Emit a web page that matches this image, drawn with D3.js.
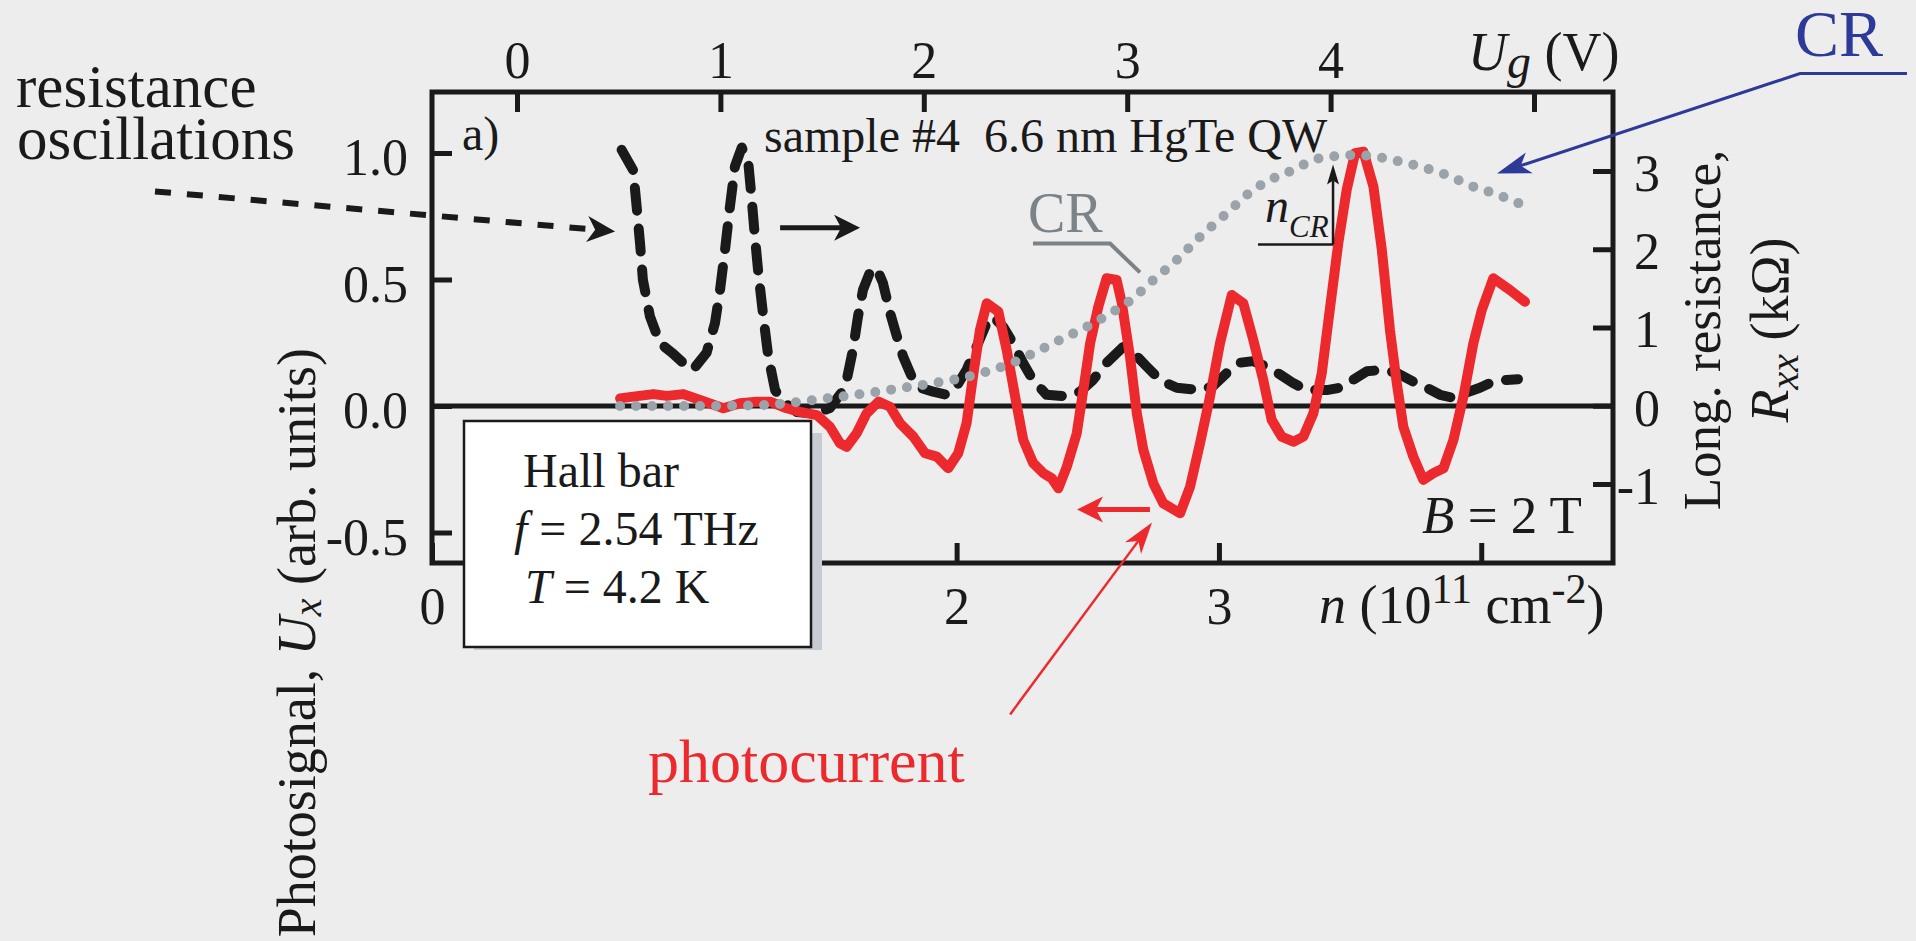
<!DOCTYPE html>
<meta charset="utf-8">
<script src="https://d3js.org/d3.v7.min.js"></script>
<style>
  body { margin: 0; background: #ededed; }
  svg { display: block; }
  text { font-family: "Liberation Serif", "Times New Roman", serif; fill: #1a1a1a; }
  .tick line { stroke: #1a1a1a; stroke-width: 5px; }
  .tick text { font-size: 52px; font-family: "Liberation Serif", serif; fill: #1a1a1a; }
</style>
<div id="chart"></div>
<script>
// carrier density n (10^11 cm^-2) vs. longitudinal resistance Rxx (kOhm), dashed curve
const resN = [0.723, 0.767, 0.780, 0.793, 0.804, 0.831, 0.869, 0.914, 0.957, 0.995, 1.047, 1.079, 1.098, 1.117,
  1.136, 1.155, 1.181, 1.206, 1.219, 1.231, 1.244, 1.263, 1.282, 1.308, 1.339, 1.391, 1.460, 1.517, 1.568,
  1.581, 1.605, 1.624, 1.643, 1.670, 1.695, 1.719, 1.746, 1.772, 1.796, 1.829, 1.860, 1.910, 1.962, 2.000,
  2.038, 2.077, 2.115, 2.139, 2.177, 2.215, 2.253, 2.291, 2.343, 2.420, 2.470, 2.520, 2.572, 2.634, 2.673,
  2.725, 2.775, 2.839, 2.928, 2.977, 3.030, 3.080, 3.130, 3.182, 3.233, 3.283, 3.335, 3.411, 3.462, 3.511,
  3.564, 3.626, 3.678, 3.740, 3.792, 3.843, 3.893, 3.945, 3.995, 4.045, 4.097, 4.140];
const resR = [3.27, 3.01, 2.55, 2.08, 1.61, 1.14, 0.80, 0.68, 0.55, 0.46, 0.68, 1.06, 1.48, 1.99,
  2.55, 3.06, 3.30, 3.10, 2.63, 2.16, 1.70, 1.14, 0.63, 0.20, 0.05, -0.08, -0.10, -0.03, 0.20,
  0.33, 0.72, 1.14, 1.48, 1.71, 1.76, 1.57, 1.19, 0.89, 0.63, 0.37, 0.23, 0.18, 0.14, 0.25,
  0.46, 0.76, 1.06, 1.14, 1.01, 0.80, 0.55, 0.33, 0.14, 0.12, 0.18, 0.33, 0.55, 0.75, 0.68,
  0.50, 0.33, 0.23, 0.20, 0.25, 0.42, 0.55, 0.57, 0.50, 0.40, 0.29, 0.20, 0.20, 0.23, 0.33,
  0.44, 0.46, 0.42, 0.31, 0.23, 0.14, 0.10, 0.17, 0.23, 0.31, 0.33, 0.34];

// photocurrent Ux (arb. units)
const photoN = [0.717, 0.767, 0.844, 0.895, 0.958, 1.022, 1.111, 1.174, 1.238, 1.289, 1.352, 1.403, 1.467,
  1.517, 1.555, 1.581, 1.619, 1.657, 1.702, 1.746, 1.784, 1.835, 1.880, 1.924, 1.968, 2.006, 2.038, 2.064,
  2.089, 2.115, 2.159, 2.191, 2.223, 2.254, 2.292, 2.331, 2.363, 2.388, 2.420, 2.458, 2.483, 2.509, 2.540,
  2.572, 2.610, 2.630, 2.661, 2.687, 2.712, 2.750, 2.788, 2.852, 2.890, 2.928, 2.966, 3.004, 3.049, 3.093,
  3.131, 3.169, 3.201, 3.239, 3.284, 3.322, 3.360, 3.392, 3.424, 3.455, 3.487, 3.519, 3.551, 3.589, 3.621,
  3.652, 3.678, 3.703, 3.741, 3.779, 3.817, 3.856, 3.894, 3.932, 3.970, 4.002, 4.046, 4.110, 4.167];
const photoU = [0.030, 0.037, 0.047, 0.040, 0.047, 0.024, -0.009, 0.011, 0.017, 0.017, -0.009, -0.023, -0.036,
  -0.082, -0.147, -0.161, -0.108, -0.029, 0.017, -0.003, -0.068, -0.121, -0.187, -0.200, -0.246, -0.187, -0.068, 0.129,
  0.300, 0.406, 0.373, 0.221, 0.037, -0.134, -0.226, -0.266, -0.286, -0.325, -0.240, -0.108, 0.063, 0.248, 0.392,
  0.505, 0.498, 0.406, 0.195, -0.029, -0.174, -0.306, -0.385, -0.424, -0.319, -0.147, 0.037, 0.248, 0.439, 0.406,
  0.261, 0.103, -0.055, -0.121, -0.141, -0.121, -0.029, 0.129, 0.392, 0.643, 0.854, 0.999, 1.005, 0.867, 0.617,
  0.300, 0.090, -0.082, -0.200, -0.292, -0.266, -0.246, -0.134, 0.037, 0.248, 0.379, 0.505, 0.458, 0.412];

// cyclotron resonance (CR) position, dotted curve
const crN = [0.717, 1.022, 1.273, 1.352, 1.505, 1.657, 1.784, 1.911, 2.013, 2.115, 2.191, 2.292, 2.394, 2.496,
  2.597, 2.648, 2.750, 2.839, 2.928, 3.030, 3.131, 3.208, 3.284, 3.360, 3.449, 3.525, 3.576, 3.690, 3.767,
  3.868, 3.970, 4.046, 4.160];
const crU = [0.000, 0.000, 0.004, 0.011, 0.030, 0.050, 0.070, 0.090, 0.109, 0.136, 0.162, 0.208, 0.261, 0.313,
  0.373, 0.406, 0.498, 0.577, 0.669, 0.762, 0.854, 0.900, 0.933, 0.972, 0.988, 0.992, 0.988, 0.966, 0.946,
  0.913, 0.867, 0.841, 0.794];

// axis ticks
const nTicks = [0, 1, 2, 3, 4];
const nLabels = ["0", "1", "2", "3", ""];
const ugTicks = [0, 1, 2, 3, 4, 5];
const ugLabels = ["0", "1", "2", "3", "4", ""];
const uTicks = [-0.5, 0, 0.5, 1.0];
const uLabels = ["-0.5", "0.0", "0.5", "1.0"];
const rTicks = [-1, 0, 1, 2, 3];
const rLabels = ["-1", "0", "1", "2", "3"];

// annotation arrows, in data units (n, Ux)
const resArrow = [[1.327, 0.705], [1.632, 0.705]];
const resPointer = [[-1.056, 0.848], [0.698, 0.690]];
const photoArrow = [[2.737, -0.409], [2.459, -0.409]];
const photoPointer = [[2.204, -1.219], [2.745, -0.460]];
const crPointer = [[5.623, 1.314], [5.215, 1.314], [4.060, 0.919]];
const crLeader = [[2.291, 0.642], [2.585, 0.642], [2.699, 0.528]];
const nCrArrow = [[3.435, 0.638], [3.435, 0.955]];
const nCrBase = [[3.149, 0.638], [3.435, 0.638]];

const W = 1916, H = 941;
const L = 432, R = 1613, T = 92, B = 563;

const svg = d3.select("#chart").append("svg")
    .attr("width", W).attr("height", H);

const x = d3.scaleLinear().domain([0, 4.5]).range([L, 1612.4]);
const xTop = d3.scaleLinear().domain([0, 5]).range([517, 1534]);
const yL = d3.scaleLinear().domain([-0.5, 1.0]).range([532.5, 153]);
const yR = d3.scaleLinear().domain([-1, 3]).range([484, 171]);

const ink = "#1a1a1a", red = "#ec2a2e", gray = "#9aa2aa", blue = "#2d3a97";

// axes, ticks pointing inwards
let ax = svg.append("g").attr("transform", "translate(0," + B + ")")
    .call(d3.axisBottom(x).tickValues(nTicks).tickSizeInner(-20).tickSizeOuter(0).tickPadding(24)
        .tickFormat((d, i) => nLabels[i]));
ax.select(".domain").remove();

ax = svg.append("g").attr("transform", "translate(0," + T + ")")
    .call(d3.axisTop(xTop).tickValues(ugTicks).tickSizeInner(-20).tickSizeOuter(0).tickPadding(14)
        .tickFormat((d, i) => ugLabels[i]));
ax.select(".domain").remove();

ax = svg.append("g").attr("transform", "translate(" + L + ",0)")
    .call(d3.axisLeft(yL).tickValues(uTicks).tickSizeInner(-20).tickSizeOuter(0).tickPadding(24)
        .tickFormat((d, i) => uLabels[i]));
ax.select(".domain").remove();
ax.selectAll("text").attr("dy", "0.42em");

ax = svg.append("g").attr("transform", "translate(" + R + ",0)")
    .call(d3.axisRight(yR).tickValues(rTicks).tickSizeInner(-20).tickSizeOuter(0).tickPadding(47)
        .tickFormat((d, i) => rLabels[i]));
ax.select(".domain").remove();
ax.selectAll("text").attr("text-anchor", "end").attr("dy", "0.37em");

// frame and zero line
svg.append("rect").attr("x", L).attr("y", T).attr("width", R - L).attr("height", B - T)
    .attr("fill", "none").attr("stroke", ink).attr("stroke-width", 5);
svg.append("line").attr("x1", L).attr("x2", R).attr("y1", yL(0)).attr("y2", yL(0))
    .attr("stroke", ink).attr("stroke-width", 5);

// curves
const resLine = d3.line().x((d, i) => x(resN[i])).y(d => yR(d));
svg.append("path").attr("d", resLine(resR))
    .attr("fill", "none").attr("stroke", ink).attr("stroke-width", 10)
    .attr("stroke-dasharray", "23 18").attr("stroke-linecap", "round").attr("stroke-linejoin", "round");

const photoLine = d3.line().x((d, i) => x(photoN[i])).y(d => yL(d));
svg.append("path").attr("d", photoLine(photoU))
    .attr("fill", "none").attr("stroke", red).attr("stroke-width", 10)
    .attr("stroke-linecap", "round").attr("stroke-linejoin", "round");

const crLine = d3.line().x((d, i) => x(crN[i])).y(d => yL(d)).curve(d3.curveMonotoneX);
svg.append("path").attr("d", crLine(crU))
    .attr("fill", "none").attr("stroke", gray).attr("stroke-width", 10)
    .attr("stroke-dasharray", "0 16").attr("stroke-linecap", "round");

// arrows
const pt = d => [x(d[0]), yL(d[1])];
function head(p1, p2, len, half, notch) {
    const a = Math.atan2(p2[1] - p1[1], p2[0] - p1[0]), c = Math.cos(a), s = Math.sin(a);
    const p = (d, w) => [p2[0] - d * c - w * s, p2[1] - d * s + w * c];
    return {path: "M" + p2 + "L" + p(len, half) + "L" + p(len - notch, 0) + "L" + p(len, -half) + "Z",
        base: p(len - notch, 0)};
}
function arrow(pts, color, width, len, half, notch, dash) {
    const px = pts.map(pt);
    const h = head(px[px.length - 2], px[px.length - 1], len, half, notch);
    const linePts = px.slice(0, -1).concat([h.base]);
    svg.append("path").attr("d", d3.line()(linePts)).attr("fill", "none")
        .attr("stroke", color).attr("stroke-width", width)
        .attr("stroke-dasharray", dash || null);
    svg.append("path").attr("d", h.path).attr("fill", color);
}
arrow(resArrow, ink, 5, 26, 13, 7);
arrow(resPointer, ink, 6, 28, 13, 8, "16 16");
arrow(photoArrow, red, 5, 26, 13, 7);
arrow(photoPointer, red, 2.5, 32, 10, 9);
arrow(crPointer, blue, 3, 34, 11, 9);
arrow(nCrArrow, ink, 2.5, 20, 6, 4);
svg.append("path").attr("d", d3.line()(nCrBase.map(pt))).attr("stroke", ink).attr("stroke-width", 2.5);
svg.append("path").attr("d", d3.line()(crLeader.map(pt))).attr("fill", "none")
    .attr("stroke", "#7b8389").attr("stroke-width", 4);

// info box
svg.append("rect").attr("x", 474).attr("y", 433).attr("width", 348).attr("height", 217).attr("fill", "#c6cad1");
svg.append("rect").attr("x", 464).attr("y", 421).attr("width", 347).attr("height", 226)
    .attr("fill", "#fff").attr("stroke", ink).attr("stroke-width", 2.5);
const boxText = [["", "Hall bar", 523, 487], ["f", " = 2.54 THz", 514, 545], ["T", " = 4.2 K", 525, 603]];
boxText.forEach(r => {
    const t = svg.append("text").attr("x", r[2]).attr("y", r[3]).style("font-size", "48px");
    t.append("tspan").style("font-style", "italic").text(r[0]);
    t.append("tspan").text(r[1]);
});

// labels
svg.append("text").attr("x", 462).attr("y", 150).style("font-size", "48px").text("a)");
svg.append("text").attr("x", 764).attr("y", 152).style("font-size", "48px")
    .attr("xml:space", "preserve").text("sample #4  6.6 nm HgTe QW");
svg.append("text").attr("x", 1028).attr("y", 232).style("font-size", "56px").style("fill", "#7b8389").text("CR");
svg.append("text").attr("x", 1795).attr("y", 56).style("font-size", "66px").style("fill", blue).text("CR");
svg.append("text").attr("x", 16).attr("y", 107).style("font-size", "61px").text("resistance");
svg.append("text").attr("x", 17).attr("y", 159).style("font-size", "61px").text("oscillations");
svg.append("text").attr("x", 648).attr("y", 782).style("font-size", "62px").style("fill", red).text("photocurrent");

let t = svg.append("text").attr("x", 1265).attr("y", 222).style("font-size", "48px");
t.append("tspan").style("font-style", "italic").text("n");
t.append("tspan").attr("dy", 15).style("font-size", "31px").style("font-style", "italic").text("CR");

t = svg.append("text").attr("x", 1422).attr("y", 533).style("font-size", "53px");
t.append("tspan").style("font-style", "italic").text("B");
t.append("tspan").text(" = 2 T");

// axis titles
t = svg.append("text").attr("x", 1319).attr("y", 623).style("font-size", "54px");
t.append("tspan").style("font-style", "italic").text("n");
t.append("tspan").text(" (10");
t.append("tspan").attr("dy", -20).style("font-size", "42px").text("11");
t.append("tspan").attr("dy", 20).text(" cm");
t.append("tspan").attr("dy", -20).style("font-size", "42px").text("-2");
t.append("tspan").attr("dy", 20).text(")");

t = svg.append("text").attr("x", 1468).attr("y", 70).style("font-size", "54px");
t.append("tspan").style("font-style", "italic").text("U");
t.append("tspan").attr("dy", 8).style("font-size", "48px").style("font-style", "italic").text("g");
t.append("tspan").attr("dy", -8).text(" (V)");

t = svg.append("text").attr("transform", "translate(315,348) rotate(-90)")
    .attr("text-anchor", "end").style("font-size", "54px");
t.append("tspan").text("Photosignal, ");
t.append("tspan").style("font-style", "italic").text("U");
t.append("tspan").attr("dy", 6).style("font-size", "40px").style("font-style", "italic").text("x");
t.append("tspan").attr("dy", -6).text(" (arb. units)");

svg.append("text").attr("transform", "translate(1720,330) rotate(-90)")
    .attr("text-anchor", "middle").style("font-size", "53px").text("Long. resistance,");
t = svg.append("text").attr("transform", "translate(1788,330) rotate(-90)")
    .attr("text-anchor", "middle").style("font-size", "54px");
t.append("tspan").style("font-style", "italic").text("R");
t.append("tspan").attr("dy", 10).style("font-size", "40px").style("font-style", "italic").text("xx");
t.append("tspan").attr("dy", -10).text(" (k\u03A9)");
</script>
